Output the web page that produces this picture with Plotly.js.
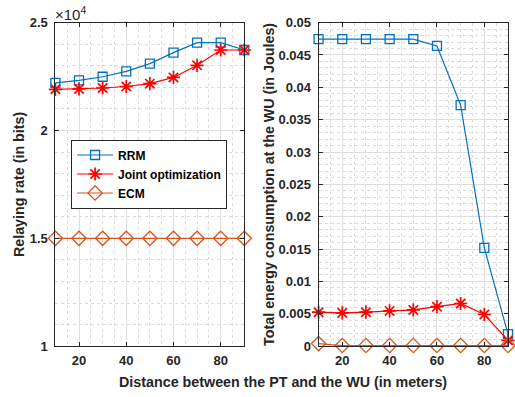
<!DOCTYPE html>
<html>
<head>
<meta charset="utf-8">
<script src="https://cdn.plot.ly/plotly-3.0.1.min.js"></script>
<style>html,body{margin:0;padding:0;background:#fff}#chart{width:515px;height:397px}</style>
</head>
<body>
<div id="chart"></div>
<script>
// Distance between the PT and the WU (m)
const distance = [10, 20, 30, 40, 50, 60, 70, 80, 90];

// Left panel: relaying rate (bits)
const rateRRM   = [22210, 22320, 22490, 22740, 23100, 23610, 24070, 24070, 23730];
const rateJoint = [21910, 21930, 21970, 22040, 22170, 22460, 23020, 23730, 23730];
const rateECM   = [15000, 15000, 15000, 15000, 15000, 15000, 15000, 15000, 15000];

// Right panel: total energy consumption at the WU (J)
const energyRRM   = [0.04744, 0.04744, 0.04744, 0.04744, 0.04744, 0.0464, 0.03725, 0.0152, 0.00185];
const energyJoint = [0.00525, 0.00515, 0.00525, 0.00545, 0.0056, 0.0061, 0.0066, 0.0049, 0.0009];
const energyECM   = [0.0004, 0.0001, 0.0001, 0.0001, 0.0001, 0.0001, 0.0001, 0.0001, 0.0001];

const seriesNames = ['RRM', 'Joint optimization', 'ECM'];
const xTicks = [20, 40, 60, 80];
const leftTickVals = [10000, 15000, 20000, 25000];
const leftTickText = ['1', '1.5', '2', '2.5'];
const rightTickVals = [0, 0.005, 0.01, 0.015, 0.02, 0.025, 0.03, 0.035, 0.04, 0.045, 0.05];
const rightTickText = ['0', '0.005', '0.01', '0.015', '0.02', '0.025', '0.03', '0.035', '0.04', '0.045', '0.05'];

const BLUE = '#0072BD', RED = '#FF0000', ORANGE = '#D95319';
const FONT = 'Liberation Sans, Arial, sans-serif';

function styleFor(i) {
  return [
    {line: {color: BLUE, width: 1.2}, marker: {symbol: 'square-open', size: 9, color: BLUE, line: {width: 1.3, color: BLUE}}},
    {line: {color: RED, width: 1.2}, marker: {symbol: 'asterisk-open', size: 11, color: RED, line: {width: 1.7, color: RED}}},
    {line: {color: ORANGE, width: 1.2}, marker: {symbol: 'diamond-open', size: 11, color: ORANGE, line: {width: 1.3, color: ORANGE}}}
  ][i];
}

const leftData = [rateRRM, rateJoint, rateECM];
const rightData = [energyRRM, energyJoint, energyECM];
const traces = [];
leftData.forEach((ys, i) => {
  const s = styleFor(i);
  traces.push({x: distance, y: ys, name: seriesNames[i], mode: 'lines+markers', xaxis: 'x', yaxis: 'y',
    line: s.line, marker: s.marker, showlegend: true, cliponaxis: false});
});
rightData.forEach((ys, i) => {
  const s = styleFor(i);
  traces.push({x: distance, y: ys, name: seriesNames[i], mode: 'lines+markers', xaxis: 'x2', yaxis: 'y2',
    line: s.line, marker: s.marker, showlegend: false, cliponaxis: false});
});

const tickFont = {family: FONT, size: 13, color: '#262626', weight: 'bold'};
const titleFont = {family: FONT, size: 14.3, color: '#262626', weight: 'bold'};

function xAxis(domain, anchor) {
  return {
    domain: domain, anchor: anchor, range: [10, 90], tickvals: xTicks,
    ticks: 'inside', ticklen: 4, tickcolor: '#262626', mirror: 'allticks',
    showline: true, linecolor: '#262626', linewidth: 1,
    showgrid: true, gridcolor: '#dedede', gridwidth: 1, zeroline: false,
    minor: {dtick: 5, tick0: 0, showgrid: true, gridcolor: '#dcdcdc', griddash: 'dot', ticks: ''},
    tickfont: tickFont, ticklabelstandoff: 2, fixedrange: true
  };
}
function yAxis(domain, anchor, range, tv, tt, minorDtick, title, standoff) {
  return {
    domain: domain, anchor: anchor, range: range, tickvals: tv, ticktext: tt,
    ticks: 'inside', ticklen: 4, tickcolor: '#262626', mirror: 'allticks',
    showline: true, linecolor: '#262626', linewidth: 1,
    showgrid: true, gridcolor: '#dedede', gridwidth: 1, zeroline: false,
    minor: {dtick: minorDtick, tick0: 0, showgrid: true, gridcolor: '#dcdcdc', griddash: 'dot', ticks: ''},
    tickfont: tickFont, ticklabelstandoff: 4,
    title: {text: title, font: titleFont, standoff: standoff}, fixedrange: true
  };
}

const yDom = [0.128, 0.943];
const layout = {
  width: 515, height: 397,
  margin: {l: 0, r: 0, t: 0, b: 0},
  paper_bgcolor: '#ffffff', plot_bgcolor: '#ffffff',
  font: {family: FONT, color: '#262626'},
  xaxis: xAxis([0.1076, 0.4744], 'y'),
  yaxis: yAxis(yDom, 'x', [10000, 25000], leftTickVals, leftTickText, 1000, 'Relaying rate (in bits)', 1),
  xaxis2: xAxis([0.6186, 0.9864], 'y2'),
  yaxis2: yAxis(yDom, 'x2', [0, 0.05], rightTickVals, rightTickText, 0.001, 'Total energy consumption at the WU (in Joules)', 0),
  showlegend: true,
  legend: {
    x: 0.138, y: 1 - 174 / 397, xanchor: 'left', yanchor: 'middle',
    bgcolor: '#ffffff', bordercolor: '#262626', borderwidth: 1,
    font: {family: FONT, size: 12, color: '#000000', weight: 'bold'},
    itemwidth: 36, tracegroupgap: 0
  },
  annotations: [
    {text: 'Distance between the PT and the WU (in meters)', xref: 'paper', yref: 'paper',
     x: 283 / 515, y: 1 - 382 / 397, xanchor: 'center', yanchor: 'middle', showarrow: false, font: titleFont},
    {text: '×10<sup>4</sup>', xref: 'paper', yref: 'paper', x: 53 / 515, y: 1 - 13 / 397,
     xanchor: 'left', yanchor: 'middle', showarrow: false, font: {family: FONT, size: 15, color: '#262626'}}
  ]
};

Plotly.newPlot('chart', traces, layout, {staticPlot: true, displayModeBar: false});
</script>
</body>
</html>
